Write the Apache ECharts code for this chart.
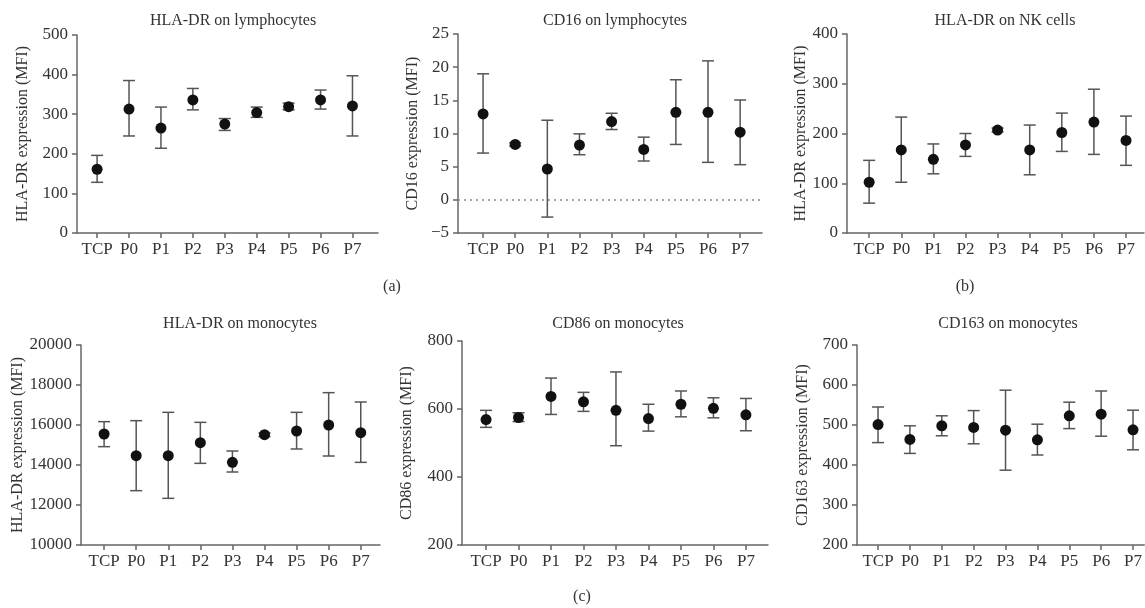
<!DOCTYPE html>
<html>
<head>
<meta charset="utf-8">
<script src="https://cdn.jsdelivr.net/npm/echarts@6/dist/echarts.min.js"></script>
<style>
  html,body{margin:0;padding:0;background:#fff;}
  #main{width:1145px;height:608px;}
</style>
</head>
<body>
<div id="main"></div>
<script>
var categories=['TCP','P0','P1','P2','P3','P4','P5','P6','P7'];

// HLA-DR on lymphocytes
var hlaLymMean=[161,313,265,336,275,304,319,336,321];
var hlaLymLow=[128,245,214,311,259,292,311,313,245];
var hlaLymHigh=[196,385,318,365,289,318,328,361,397];

// CD16 on lymphocytes
var cd16Mean=[12.95,8.35,4.65,8.25,11.8,7.6,13.2,13.2,10.2];
var cd16Low=[7.05,8.1,-2.6,6.8,10.6,5.85,8.35,5.65,5.3];
var cd16High=[19,8.6,12,9.95,13.05,9.45,18.1,20.95,15.05];

// HLA-DR on NK cells
var hlaNkMean=[102,167,148,177,207,167,202,223,186];
var hlaNkLow=[60,102,119,154,203,117,164,158,136];
var hlaNkHigh=[146,233,179,200,211,217,241,289,235];

// HLA-DR on monocytes
var hlaMonoMean=[15550,14467,14467,15117,14133,15517,15700,16000,15617];
var hlaMonoLow=[14917,12717,12333,14083,13650,15420,14800,14450,14133];
var hlaMonoHigh=[16167,16217,16633,16133,14700,15600,16633,17617,17150];

// CD86 on monocytes
var cd86Mean=[569,575,637,621,596,572,614,602,583];
var cd86Low=[546,563,584,593,492,535,577,574,536];
var cd86High=[596,589,691,649,709,614,653,633,631];

// CD163 on monocytes
var cd163Mean=[501,464,498,494,487,463,523,527,488];
var cd163Low=[456,429,473,453,387,425,491,472,438];
var cd163High=[545,498,523,536,587,502,557,585,537];

var font='Liberation Serif';
var axisColor='#666';
var textColor='#333';

var panels=[
  {title:'HLA-DR on lymphocytes',yName:'HLA-DR expression (MFI)',mean:hlaLymMean,low:hlaLymLow,high:hlaLymHigh,
   left:77,top:35,width:301,height:198,xMin:-0.63,xMax:8.8,yMin:0,yMax:500,yInt:100,gap:46,tx:228,ty:8},
  {title:'CD16 on lymphocytes',yName:'CD16 expression (MFI)',mean:cd16Mean,low:cd16Low,high:cd16High,
   left:458,top:34,width:304,height:199,xMin:-0.78,xMax:8.68,yMin:-5,yMax:25,yInt:5,gap:37,tx:610,ty:8,zero:true},
  {title:'HLA-DR on NK cells',yName:'HLA-DR expression (MFI)',mean:hlaNkMean,low:hlaNkLow,high:hlaNkHigh,
   left:847,top:34,width:297,height:199,xMin:-0.69,xMax:8.56,yMin:0,yMax:400,yInt:100,gap:37,tx:1000,ty:8},
  {title:'HLA-DR on monocytes',yName:'HLA-DR expression (MFI)',mean:hlaMonoMean,low:hlaMonoLow,high:hlaMonoHigh,
   left:81,top:345,width:299,height:200,xMin:-0.72,xMax:8.6,yMin:10000,yMax:20000,yInt:2000,gap:50,tx:235,ty:311},
  {title:'CD86 on monocytes',yName:'CD86 expression (MFI)',mean:cd86Mean,low:cd86Low,high:cd86High,
   left:462,top:341,width:306,height:204,xMin:-0.74,xMax:8.68,yMin:200,yMax:800,yInt:200,gap:47,tx:613,ty:311},
  {title:'CD163 on monocytes',yName:'CD163 expression (MFI)',mean:cd163Mean,low:cd163Low,high:cd163High,
   left:857,top:345,width:288,height:200,xMin:-0.66,xMax:8.35,yMin:200,yMax:700,yInt:100,gap:46,tx:1003,ty:311}
];

function errorBar(params,api){
  var x=api.value(0);
  var lo=api.coord([x,api.value(1)]);
  var hi=api.coord([x,api.value(2)]);
  var w=6;
  var st={stroke:'#555',lineWidth:1.5};
  return {type:'group',children:[
    {type:'line',shape:{x1:lo[0],y1:lo[1],x2:hi[0],y2:hi[1]},style:st},
    {type:'line',shape:{x1:hi[0]-w,y1:hi[1],x2:hi[0]+w,y2:hi[1]},style:st},
    {type:'line',shape:{x1:lo[0]-w,y1:lo[1],x2:lo[0]+w,y2:lo[1]},style:st}
  ]};
}

var idx=[0,1,2,3,4,5,6,7,8];
var grids=[],xAxes=[],yAxes=[],series=[],titles=[];

panels.forEach(function(p,i){
  grids.push({left:p.left,top:p.top,width:p.width,height:p.height});
  titles.push({text:p.title,left:p.tx,top:p.ty,textAlign:'center',
    textStyle:{fontFamily:font,fontSize:16,fontWeight:'normal',color:textColor}});
  xAxes.push({
    type:'value',gridIndex:i,min:p.xMin,max:p.xMax,
    axisLine:{show:true,onZero:false,lineStyle:{color:axisColor,width:1.5}},
    axisTick:{show:true,customValues:idx,length:5,lineStyle:{color:axisColor,width:1.5}},
    axisLabel:{customValues:idx,margin:8,fontFamily:font,fontSize:17,color:textColor,
      formatter:function(v){return categories[Math.round(v)];}},
    splitLine:{show:false}
  });
  yAxes.push({
    type:'value',gridIndex:i,min:p.yMin,max:p.yMax,interval:p.yInt,
    name:p.yName,nameLocation:'middle',nameGap:p.gap,
    nameTextStyle:{fontFamily:font,fontSize:16,color:textColor},
    axisLine:{show:true,onZero:false,lineStyle:{color:axisColor,width:1.5}},
    axisTick:{show:true,length:5,lineStyle:{color:axisColor,width:1.5}},
    axisLabel:{margin:9,fontFamily:font,fontSize:17,color:textColor,
      formatter:function(v){return String(v).replace('-','\u2212');}},
    splitLine:{show:false}
  });
  var bars=[],dots=[];
  for(var k=0;k<categories.length;k++){
    bars.push([k,p.low[k],p.high[k]]);
    dots.push([k,p.mean[k]]);
  }
  series.push({
    type:'custom',xAxisIndex:i,yAxisIndex:i,renderItem:errorBar,
    encode:{x:0,y:[1,2]},data:bars,silent:true
  });
  var sc={
    type:'scatter',xAxisIndex:i,yAxisIndex:i,data:dots,symbolSize:11,
    itemStyle:{color:'#111',opacity:1},silent:true
  };
  if(p.zero){
    sc.markLine={silent:true,symbol:'none',label:{show:false},
      lineStyle:{color:'#888',type:[2,4],width:1.5},data:[{yAxis:0}]};
  }
  series.push(sc);
});

var tagStyle={fontFamily:font,fontSize:16,fontWeight:'normal',color:textColor};
titles.push({text:'(a)',left:387,top:274,textAlign:'center',textStyle:tagStyle});
titles.push({text:'(b)',left:960,top:274,textAlign:'center',textStyle:tagStyle});
titles.push({text:'(c)',left:577,top:584,textAlign:'center',textStyle:tagStyle});

var myChart=echarts.init(document.getElementById('main'));
myChart.setOption({
  animation:false,
  backgroundColor:'#fff',
  title:titles,
  grid:grids,
  xAxis:xAxes,
  yAxis:yAxes,
  series:series
});
</script>
</body>
</html>
